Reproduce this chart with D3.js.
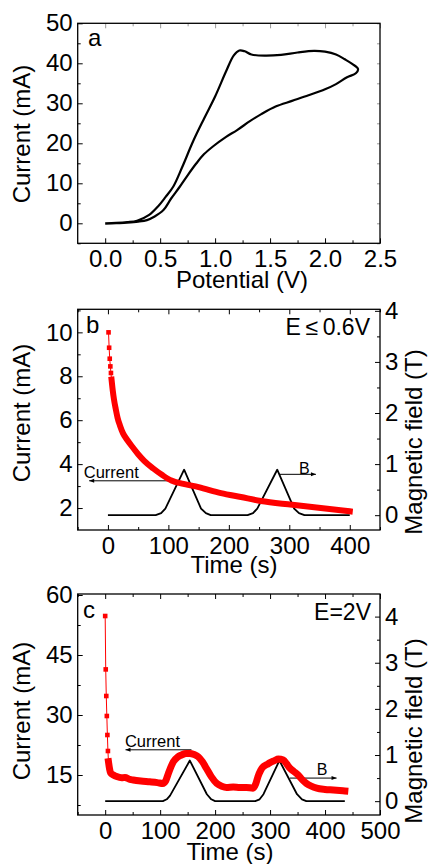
<!DOCTYPE html>
<html>
<head>
<meta charset="utf-8">
<script src="https://cdn.jsdelivr.net/npm/d3@7"></script>
<style>
body { margin: 0; background: #fff; }
svg { display: block; font-family: "Liberation Sans", Arial, sans-serif; }
</style>
</head>
<body>
<script>
// ---- panel a : cyclic voltammogram (forward sweep then return) ----
var cvPotential = [0, 0.1, 0.2, 0.29, 0.4, 0.48, 0.55, 0.62, 0.7, 0.8, 0.9, 1.0, 1.1, 1.17, 1.22, 1.27, 1.33, 1.45, 1.6, 1.75, 1.9, 2.0, 2.1, 2.18, 2.25, 2.3,
                   2.28, 2.2, 2.1, 2.0, 1.85, 1.7, 1.55, 1.42, 1.32, 1.2, 1.1, 0.98, 0.9, 0.83, 0.75, 0.68, 0.6, 0.53, 0.45, 0.38, 0.3, 0.2, 0.1, 0];
var cvCurrent   = [0, 0.1, 0.3, 0.65, 2.1, 4.2, 6.6, 9.2, 14, 20.5, 26.2, 31.7, 38, 42, 43.2, 43, 42.2, 41.9, 42.1, 42.7, 43.1, 42.9, 42.2, 41, 39.8, 38.6,
                   37.5, 36.5, 34.8, 33.5, 32, 30.6, 29.2, 27.3, 25.6, 23.3, 21.6, 19.2, 17.3, 15, 12, 9.2, 6.2, 3.3, 1.7, 0.8, 0.4, 0.15, 0.02, -0.1];

// ---- panel b : E <= 0.6 V ----
var bTime    = [1, 2, 3, 4, 5, 6, 8, 10, 13, 16, 20, 25, 32, 40, 50, 60, 75, 90, 105, 125, 150, 187, 220, 253, 305, 352, 400];
var bCurrent = [10, 9.3, 8.8, 8.45, 8.15, 7.85, 7.35, 6.95, 6.5, 6.1, 5.75, 5.4, 5.1, 4.8, 4.45, 4.15, 3.8, 3.5, 3.25, 3.1, 2.95, 2.68, 2.5, 2.32, 2.15, 2.0, 1.85];
var bFieldTime = [0, 79, 88, 95, 126, 154, 162, 170, 231, 240, 247, 280, 308, 316, 325, 400];
var bField     = [0, 0, 0.04, 0.13, 0.89, 0.13, 0.04, 0, 0, 0.04, 0.13, 0.89, 0.13, 0.04, 0, 0];

// ---- panel c : E = 2 V ----
var cTime    = [0, 1, 2, 3, 4, 5, 6, 8, 10, 15, 21, 30, 36, 45, 51, 65, 81, 95, 105, 110, 115, 124, 132, 139, 147, 154, 162, 169, 177, 184, 193, 203, 212, 221,
                233, 245, 257, 269, 274, 278, 283, 288, 294, 300, 308, 315, 324, 330, 336, 343, 351, 358, 366, 375, 385, 400, 415, 436];
var cCurrent = [54.75, 41.4, 34.75, 29.75, 25, 21, 18.3, 16.5, 15.5, 15.0, 14.6, 14.3, 14.4, 13.9, 13.75, 13.5, 13.3, 13.1, 12.9, 13.5, 15.4, 18.3, 19.5, 20.0, 20.4, 20.4, 20.1, 19.6, 18.3, 16.7, 14.6, 12.9, 12.2, 11.9,
                12.0, 11.9, 11.9, 11.7, 12.8, 14.6, 16.2, 17.1, 17.6, 18.1, 18.6, 19.0, 18.75, 17.8, 16.7, 15.9, 15.0, 13.9, 12.9, 12.2, 11.7, 11.4, 11.25, 11.0];
var cFieldTime = [0, 105, 112, 118, 154, 185, 193, 200, 273, 281, 288, 317, 349, 358, 366, 436];
var cField     = [0, 0, 0.04, 0.12, 0.88, 0.15, 0.04, 0, 0, 0.04, 0.15, 0.88, 0.15, 0.04, 0, 0];

// tick values
var aXTicks = [0, 0.5, 1.0, 1.5, 2.0, 2.5], aYTicks = [0, 10, 20, 30, 40, 50];
var bXTicks = [0, 100, 200, 300, 400], bYTicks = [2, 4, 6, 8, 10], bRTicks = [0, 1, 2, 3, 4];
var cXTicks = [0, 100, 200, 300, 400, 500], cYTicks = [15, 30, 45, 60], cRTicks = [0, 1, 2, 3, 4];

var W = 430, H = 864;
var L = 77.7, R = 380;
var RED = "#ff0000";

var svg = d3.select("body").append("svg").attr("width", W).attr("height", H);

var defs = svg.append("defs");
defs.append("marker")
    .attr("id", "arrow")
    .attr("viewBox", "0 0 10 10")
    .attr("refX", 10).attr("refY", 5)
    .attr("markerWidth", 6).attr("markerHeight", 5)
    .attr("markerUnits", "userSpaceOnUse")
    .attr("orient", "auto")
  .append("path")
    .attr("d", "M0,1L10,5L0,9z")
    .attr("fill", "#000");

function styleAxis(sel, fs) {
  sel.select(".domain").remove();
  sel.selectAll(".tick line").attr("stroke", "#000").attr("stroke-width", 1);
  sel.selectAll(".tick text").attr("font-size", fs).attr("fill", "#000").attr("font-family", "Liberation Sans, Arial, sans-serif");
}

// builds frame + axes for one panel, returns scales
function panel(o) {
  var g = svg.append("g");
  var x = d3.scaleLinear().domain(o.xDomain).range([L, R]);
  var y = d3.scaleLinear().domain(o.yDomain).range([o.bottom, o.top]);
  var y2 = o.rDomain ? d3.scaleLinear().domain(o.rDomain).range([o.bottom, o.top]) : null;
  var topColor = y2 ? "#000" : "#999";

  // minor ticks
  g.append("g").attr("transform", `translate(0,${o.bottom})`)
    .call(d3.axisBottom(x).tickValues(o.xMinor).tickSize(-3).tickFormat(""))
    .call(styleAxis, 0);
  g.append("g").attr("transform", `translate(0,${o.top})`)
    .call(d3.axisTop(x).tickValues(o.xMinor).tickSize(-3).tickFormat(""))
    .call(styleAxis, 0)
    .selectAll(".tick line").attr("stroke", topColor);
  g.append("g").attr("transform", `translate(${L},0)`)
    .call(d3.axisLeft(y).tickValues(o.yMinor).tickSize(-3).tickFormat(""))
    .call(styleAxis, 0);

  // major ticks
  g.append("g").attr("transform", `translate(0,${o.bottom})`)
    .call(d3.axisBottom(x).tickValues(o.xTicks).tickSize(-5).tickPadding(7).tickFormat(o.xFormat))
    .call(styleAxis, 24);
  g.append("g").attr("transform", `translate(0,${o.top})`)
    .call(d3.axisTop(x).tickValues(o.xTicks).tickSize(-5).tickFormat(""))
    .call(styleAxis, 0)
    .selectAll(".tick line").attr("stroke", topColor);
  g.append("g").attr("transform", `translate(${L},0)`)
    .call(d3.axisLeft(y).tickValues(o.yTicks).tickSize(-5).tickPadding(5).tickFormat(d3.format("d")))
    .call(styleAxis, 24);

  if (y2) {
    g.append("g").attr("transform", `translate(${R},0)`)
      .call(d3.axisRight(y2).tickValues(o.rMinor).tickSize(-3).tickFormat(""))
      .call(styleAxis, 0);
    g.append("g").attr("transform", `translate(${R},0)`)
      .call(d3.axisRight(y2).tickValues(o.rTicks).tickSize(-5).tickPadding(5).tickFormat(d3.format("d")))
      .call(styleAxis, 24);
  } else {
    // mirrored faint ticks on the right
    g.append("g").attr("transform", `translate(${R},0)`)
      .call(d3.axisRight(y).tickValues(o.yTicks.concat(o.yMinor)).tickSize(-3).tickFormat(""))
      .call(styleAxis, 0)
      .selectAll(".tick line").attr("stroke", "#999");
  }

  g.append("rect")
    .attr("x", L).attr("y", o.top)
    .attr("width", R - L).attr("height", o.bottom - o.top)
    .attr("fill", "none").attr("stroke", "#000").attr("stroke-width", 1.3);

  // titles
  g.append("text")
    .attr("x", o.xTitleX).attr("y", o.bottom + o.xTitleDy)
    .attr("text-anchor", "middle").attr("font-size", 24)
    .text(o.xTitle);
  g.append("text")
    .attr("transform", `translate(30,${o.yTitleY}) rotate(-90)`)
    .attr("text-anchor", "middle").attr("font-size", 24)
    .text("Current (mA)");
  if (y2) {
    g.append("text")
      .attr("transform", `translate(422,${o.rTitleY}) rotate(-90)`)
      .attr("text-anchor", "middle").attr("font-size", 24)
      .text("Magnetic field (T)");
  }
  g.append("text")
    .attr("x", o.letterX).attr("y", o.letterY)
    .attr("font-size", 24)
    .text(o.letter);

  var clipId = "clip-" + o.letter;
  defs.append("clipPath").attr("id", clipId)
    .append("rect").attr("x", L).attr("y", o.top).attr("width", R - L).attr("height", o.bottom - o.top);
  var plot = svg.append("g").attr("clip-path", `url(#${clipId})`);

  return { x: x, y: y, y2: y2, g: g, plot: plot };
}

function arrow(sel, x1, y1, x2, y2) {
  sel.append("line")
    .attr("x1", x1).attr("y1", y1).attr("x2", x2).attr("y2", y2)
    .attr("stroke", "#000").attr("stroke-width", 1)
    .attr("marker-end", "url(#arrow)");
}

// red current trace: thin joining line, square markers, then a thick band where markers merge
function currentTrace(p, t, v, bandFrom, bandWidth) {
  var pts = t.map(function(d, i) { return [p.x(d), p.y(v[i])]; });
  var line = d3.line();
  p.plot.append("path").attr("d", line(pts))
    .attr("fill", "none").attr("stroke", RED).attr("stroke-width", 1);
  p.plot.append("path").attr("d", d3.line().curve(d3.curveMonotoneX)(pts.filter(function(d, i) { return t[i] >= bandFrom; })))
    .attr("fill", "none").attr("stroke", RED).attr("stroke-width", bandWidth)
    .attr("stroke-linejoin", "round").attr("stroke-linecap", "square");
  p.plot.selectAll(null).data(pts.filter(function(d, i) { return t[i] < bandFrom + 1; }))
    .join("rect")
    .attr("x", function(d) { return d[0] - 2.3; })
    .attr("y", function(d) { return d[1] - 2.3; })
    .attr("width", 4.6).attr("height", 4.6)
    .attr("fill", RED);
}

function fieldTrace(p, t, v) {
  p.plot.append("path")
    .attr("d", d3.line()(t.map(function(d, i) { return [p.x(d), p.y2(v[i])]; })))
    .attr("fill", "none").attr("stroke", "#000").attr("stroke-width", 1.8)
    .attr("stroke-linejoin", "round");
}

// ================= panel a =================
var pa = panel({
  top: 23.3, bottom: 243.3,
  xDomain: [-0.25, 2.5], yDomain: [-5, 50],
  xTicks: aXTicks, xMinor: [0.25, 0.75, 1.25, 1.75, 2.25],
  yTicks: aYTicks, yMinor: [-5, 5, 15, 25, 35, 45],
  xFormat: d3.format(".1f"),
  xTitle: "Potential (V)", xTitleX: 242, xTitleDy: 44.5, yTitleY: 134,
  letter: "a", letterX: 88, letterY: 46
});
pa.plot.append("path")
  .attr("d", d3.line().curve(d3.curveCatmullRom.alpha(0.5))(cvPotential.map(function(d, i) { return [pa.x(d), pa.y(cvCurrent[i])]; })))
  .attr("fill", "none").attr("stroke", "#000").attr("stroke-width", 2.2)
  .attr("stroke-linejoin", "round");

// ================= panel b =================
var pb = panel({
  top: 309.3, bottom: 530,
  xDomain: [-50, 450], yDomain: [1, 11.05], rDomain: [-0.29, 4.03],
  xTicks: bXTicks, xMinor: [-50, 50, 150, 250, 350, 450],
  yTicks: bYTicks, yMinor: [3, 5, 7, 9, 11],
  rTicks: bRTicks, rMinor: [0.5, 1.5, 2.5, 3.5],
  xFormat: d3.format("d"),
  xTitle: "Time (s)", xTitleX: 234, xTitleDy: 43, yTitleY: 413, rTitleY: 442,
  letter: "b", letterX: 86, letterY: 333
});
fieldTrace(pb, bFieldTime, bField);
currentTrace(pb, bTime, bCurrent, 6, 6);
pb.g.append("text").attr("x", 370).attr("y", 335).attr("text-anchor", "end").attr("font-size", 23).text("E\u2009\u2264\u20090.6V");
pb.g.append("text").attr("x", pb.x(-40)).attr("y", pb.y(3.37)).attr("font-size", 16.5).text("Current");
arrow(pb.g, pb.x(109), pb.y(3.24), pb.x(-31), pb.y(3.24));
pb.g.append("text").attr("x", pb.x(316)).attr("y", pb.y2(0.81)).attr("font-size", 16).text("B");
arrow(pb.g, pb.x(283), pb.y2(0.8), pb.x(344), pb.y2(0.8));

// ================= panel c =================
var pc = panel({
  top: 594, bottom: 815,
  xDomain: [-50, 500], yDomain: [5, 60.25], rDomain: [-0.3, 4.49],
  xTicks: cXTicks, xMinor: [-50, 50, 150, 250, 350, 450],
  yTicks: cYTicks, yMinor: [7.5, 22.5, 37.5, 52.5],
  rTicks: cRTicks, rMinor: [0.5, 1.5, 2.5, 3.5],
  xFormat: d3.format("d"),
  xTitle: "Time (s)", xTitleX: 230, xTitleDy: 45, yTitleY: 711, rTitleY: 731,
  letter: "c", letterX: 83, letterY: 618
});
fieldTrace(pc, cFieldTime, cField);
currentTrace(pc, cTime, cCurrent, 6, 7);
pc.g.append("text").attr("x", 371).attr("y", 620).attr("text-anchor", "end").attr("font-size", 23).text("E=2V");
pc.g.append("text").attr("x", pc.x(36)).attr("y", pc.y(22.1)).attr("font-size", 16.5).text("Current");
arrow(pc.g, pc.x(157), pc.y(21.3), pc.x(37), pc.y(21.3));
pc.g.append("text").attr("x", pc.x(385)).attr("y", pc.y2(0.56)).attr("font-size", 16).text("B");
arrow(pc.g, pc.x(336), pc.y2(0.5), pc.x(421), pc.y2(0.5));
</script>
</body>
</html>
